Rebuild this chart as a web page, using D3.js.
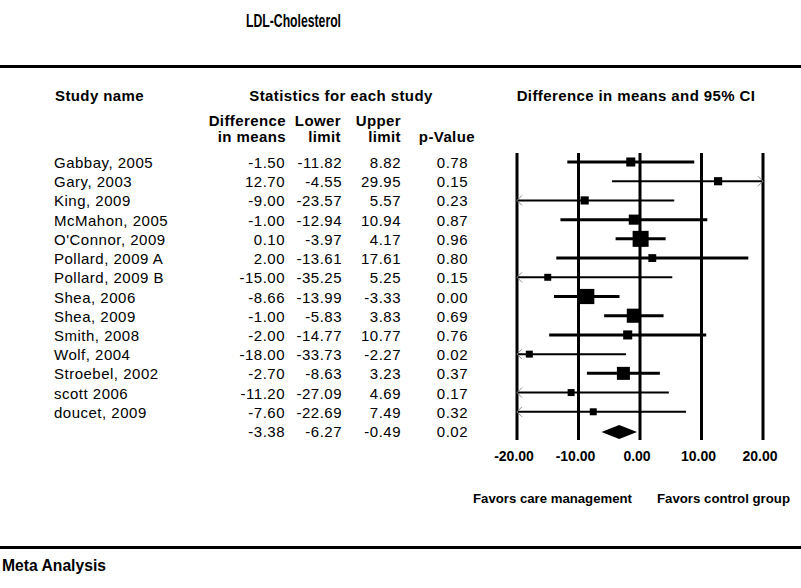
<!DOCTYPE html>
<html>
<head>
<meta charset="utf-8">
<script src="https://cdn.jsdelivr.net/npm/d3@7"></script>
<style>
  html, body { margin: 0; padding: 0; background: #fff; }
  svg { display: block; }
</style>
</head>
<body>
<svg id="chart" width="801" height="588"></svg>
<script>
// ---- data ----
const studies = ["Gabbay, 2005","Gary, 2003","King, 2009","McMahon, 2005","O'Connor, 2009","Pollard, 2009 A","Pollard, 2009 B","Shea, 2006","Shea, 2009","Smith, 2008","Wolf, 2004","Stroebel, 2002","scott 2006","doucet, 2009"];
const diffs  = [-1.50, 12.70, -9.00, -1.00, 0.10, 2.00, -15.00, -8.66, -1.00, -2.00, -18.00, -2.70, -11.20, -7.60];
const lowers = [-11.82, -4.55, -23.57, -12.94, -3.97, -13.61, -35.25, -13.99, -5.83, -14.77, -33.73, -8.63, -27.09, -22.69];
const uppers = [8.82, 29.95, 5.57, 10.94, 4.17, 17.61, 5.25, -3.33, 3.83, 10.77, -2.27, 3.23, 4.69, 7.49];
const pvals  = [0.78, 0.15, 0.23, 0.87, 0.96, 0.80, 0.15, 0.00, 0.69, 0.76, 0.02, 0.37, 0.17, 0.32];
const weights = [3.2, 2.6, 2.6, 4.0, 10.0, 2.4, 1.9, 9.0, 7.8, 3.2, 1.9, 6.6, 1.9, 1.9];
const summary = { diff: -3.38, lower: -6.27, upper: -0.49, p: 0.02 };
const ticks = [-20, -10, 0, 10, 20];

// ---- layout ----
const svg = d3.select("#chart");
const x = d3.scaleLinear().domain([-20, 20]).range([517, 763]);
const y = d3.scaleLinear().domain([0, 14]).range([162, 431]);
const size = d3.scaleSqrt().domain([0, 10]).range([0, 16]);
const fmt = d3.formatLocale({ decimal: ".", thousands: ",", grouping: [3], currency: ["", ""], minus: "-" }).format(".2f");
const font = "'Liberation Sans', Arial, sans-serif";

// title
svg.append("text").attr("x", 246).attr("y", 27)
  .attr("font-family", font).attr("font-weight", "bold").attr("font-size", 18)
  .attr("textLength", 95).attr("lengthAdjust", "spacingAndGlyphs")
  .text("LDL-Cholesterol");

// rules
svg.append("rect").attr("x", 0).attr("y", 65).attr("width", 801).attr("height", 3).attr("fill", "#000");
svg.append("rect").attr("x", 0).attr("y", 546).attr("width", 801).attr("height", 3).attr("fill", "#000");

// headers
const hdr = (tx, ty, t, anchor) => svg.append("text").attr("x", tx).attr("y", ty)
  .attr("text-anchor", anchor || "start").attr("font-family", font).attr("font-weight", "bold")
  .attr("font-size", 15).attr("letter-spacing", 0.4).text(t);
hdr(55, 101, "Study name");
hdr(341, 101, "Statistics for each study", "middle");
hdr(636, 101, "Difference in means and 95% CI", "middle");
hdr(286, 126, "Difference", "end");
hdr(286, 142, "in means", "end");
hdr(341, 126, "Lower", "end");
hdr(341, 142, "limit", "end");
hdr(401, 126, "Upper", "end");
hdr(401, 142, "limit", "end");
hdr(475, 142, "p-Value", "end");

// table text
const rows = studies.map((s, i) => ({ name: s, d: diffs[i], lo: lowers[i], hi: uppers[i], p: pvals[i], w: weights[i], i }));
const allRows = rows.concat([{ name: "", d: summary.diff, lo: summary.lower, hi: summary.upper, p: summary.p, i: 14 }]);
const cols = [
  { key: "d", x: 285 }, { key: "lo", x: 342 }, { key: "hi", x: 401 }, { key: "p", x: 468 }
];
const tg = svg.append("g").attr("font-family", font).attr("font-size", 15).attr("letter-spacing", 0.5).attr("fill", "#000");
tg.selectAll("text.name").data(rows).join("text").attr("class", "name")
  .attr("x", 54).attr("y", d => y(d.i) + 6).text(d => d.name);
cols.forEach(c => {
  tg.selectAll("text.c" + c.key).data(allRows).join("text").attr("class", "c" + c.key)
    .attr("x", c.x).attr("y", d => y(d.i) + 6).attr("text-anchor", "end")
    .text(d => fmt(d[c.key]));
});

// vertical grid lines
svg.append("g").selectAll("rect").data(ticks).join("rect")
  .attr("x", d => x(d) - 1.5).attr("y", 153).attr("width", 3).attr("height", 287).attr("fill", "#000");

// tick labels
svg.append("g").selectAll("text").data(ticks).join("text")
  .attr("x", d => x(d) - 3).attr("y", 461).attr("text-anchor", "middle")
  .attr("font-family", font).attr("font-weight", "bold").attr("font-size", 14)
  .text(d => fmt(d));

// CI lines
const [dmin, dmax] = x.domain();
const ci = svg.append("g");
rows.forEach(r => {
  const lo = Math.max(r.lo, dmin), hi = Math.min(r.hi, dmax);
  const trunc = r.lo < dmin || r.hi > dmax;
  ci.append("line").attr("x1", x(lo)).attr("x2", x(hi)).attr("y1", y(r.i)).attr("y2", y(r.i))
    .attr("stroke", "#000").attr("stroke-width", trunc ? 2 : 3);
  if (r.lo < dmin) {
    ci.append("path").attr("d", `M${x(dmin) + 5},${y(r.i) - 5} L${x(dmin)},${y(r.i)} L${x(dmin) + 5},${y(r.i) + 5}`)
      .attr("fill", "none").attr("stroke", "#888").attr("stroke-width", 1);
  }
  if (r.hi > dmax) {
    ci.append("path").attr("d", `M${x(dmax) - 5},${y(r.i) - 5} L${x(dmax)},${y(r.i)} L${x(dmax) - 5},${y(r.i) + 5}`)
      .attr("fill", "none").attr("stroke", "#888").attr("stroke-width", 1);
  }
});

// squares
svg.append("g").selectAll("rect").data(rows).join("rect")
  .attr("x", d => x(d.d) - size(d.w) / 2).attr("y", d => y(d.i) - size(d.w) / 2)
  .attr("width", d => size(d.w)).attr("height", d => size(d.w)).attr("fill", "#000");

// summary diamond
const sy = y(14) + 1;
svg.append("path")
  .attr("d", `M${x(summary.lower)},${sy} L${x(summary.diff)},${sy - 7} L${x(summary.upper)},${sy} L${x(summary.diff)},${sy + 7} Z`)
  .attr("fill", "#000");

// favors labels
svg.append("text").attr("x", 473).attr("y", 503)
  .attr("font-family", font).attr("font-weight", "bold").attr("font-size", 13)
  .attr("textLength", 159).attr("lengthAdjust", "spacingAndGlyphs").text("Favors care management");
svg.append("text").attr("x", 657).attr("y", 503)
  .attr("font-family", font).attr("font-weight", "bold").attr("font-size", 13)
  .attr("textLength", 133).attr("lengthAdjust", "spacingAndGlyphs").text("Favors control group");

// footer
svg.append("text").attr("x", 2).attr("y", 571).attr("font-family", font).attr("font-weight", "bold")
  .attr("font-size", 16).attr("textLength", 104).attr("lengthAdjust", "spacingAndGlyphs").text("Meta Analysis");
</script>
</body>
</html>
